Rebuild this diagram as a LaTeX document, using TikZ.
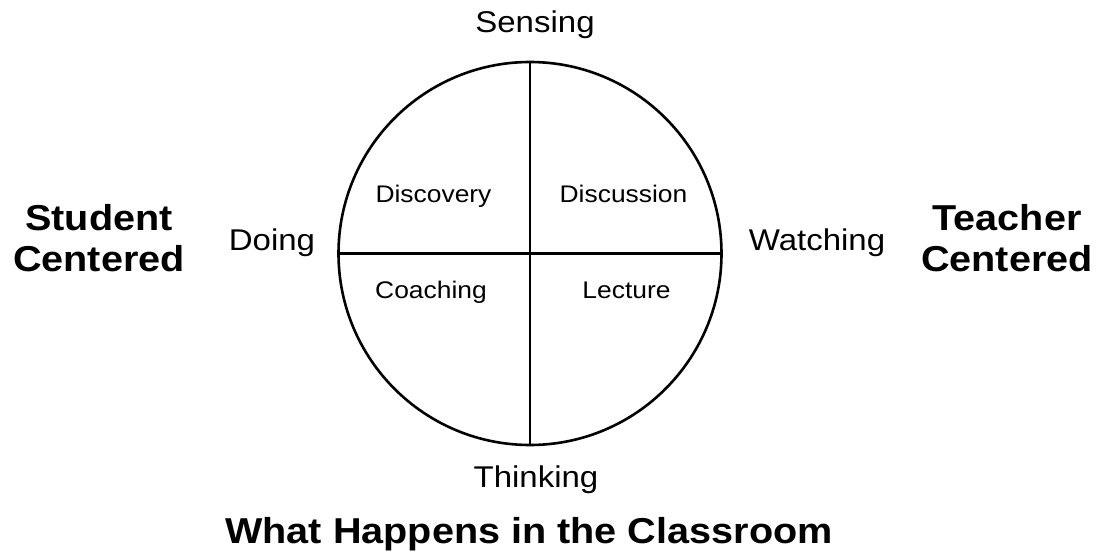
\documentclass[tikz,border=0pt]{standalone}
\usepackage{fontspec}
\setmainfont{Liberation Sans}[FakeStretch=1.1]
\begin{document}
\begin{tikzpicture}[x=1pt,y=-1pt,
  axislabel/.style={inner sep=0pt,anchor=base,font=\fontsize{30}{36}\selectfont},
  quadlabel/.style={inner sep=0pt,anchor=base,font=\fontsize{24}{29}\selectfont},
  sidelabel/.style={inner sep=0pt,anchor=base,align=center,font=\fontsize{36}{41}\selectfont\bfseries},
  divider/.style={line width=2.6pt}]
  \useasboundingbox (0,0) rectangle (1104,551);
  % quadrant circle
  \node[circle,draw,line width=2.6pt,minimum size=383pt,inner sep=0pt] (wheel) at (530,253.5) {};
  \draw[divider] (wheel.north) -- (wheel.south);
  \draw[divider] (wheel.west) -- (wheel.east);
  % axis ends
  \node[axislabel] (sensing) at (535,33) {Sensing};
  \node[axislabel] (thinking) at (536,487) {Thinking};
  \node[axislabel] (doing) at (272,250) {Doing};
  \node[axislabel] (watching) at (817,250) {Watching};
  % quadrants
  \node[quadlabel] (discovery) at (433.5,202) {Discovery};
  \node[quadlabel] (discussion) at (623.5,202) {Discussion};
  \node[quadlabel] (coaching) at (431,298) {Coaching};
  \node[quadlabel] (lecture) at (626.5,298) {Lecture};
  % sides (base anchor sits on the last line) and caption
  \node[sidelabel] (student) at (99,271) {Student\\Centered};
  \node[sidelabel] (teacher) at (1007,271) {Teacher\\Centered};
  \node[sidelabel] (caption) at (529,543) {What Happens in the Classroom};
\end{tikzpicture}
\end{document}
